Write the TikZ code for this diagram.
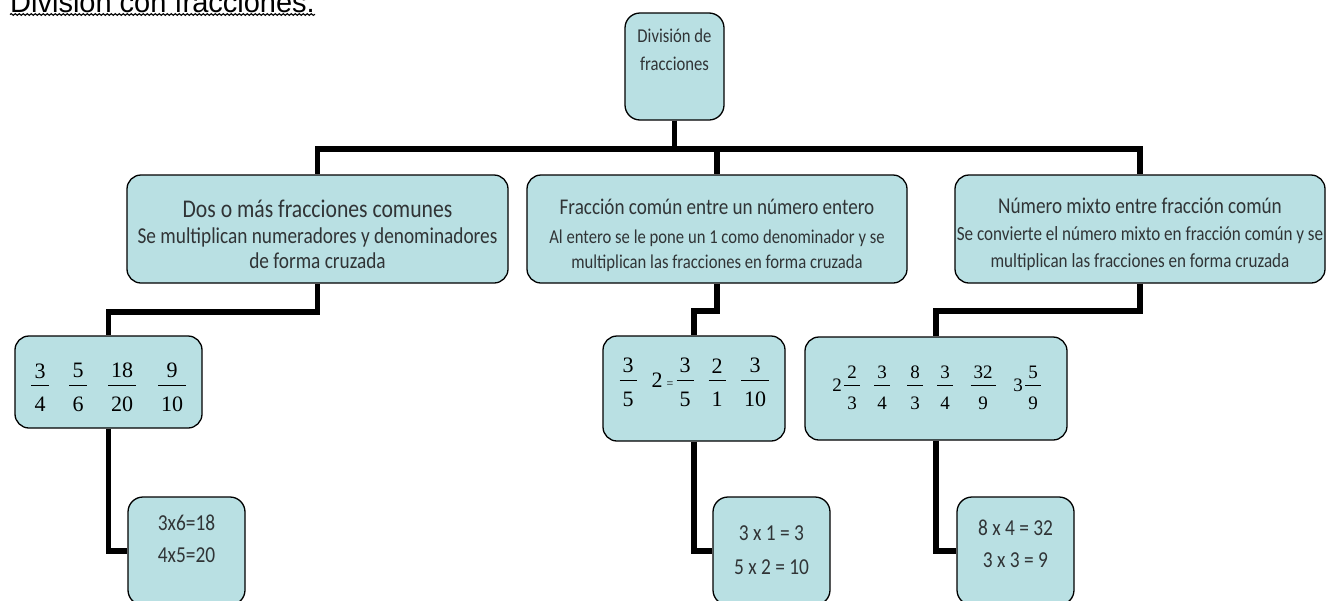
\documentclass[tikz,border=0pt]{standalone}
\usepackage{fontspec}
\setmainfont[FakeStretch=0.85]{Carlito}
\newfontfamily\serif{Liberation Serif}
\newfontfamily\arialf{Liberation Sans}
\usetikzlibrary{calc,decorations.pathmorphing}
\definecolor{boxfill}{RGB}{185,224,227}
\definecolor{txt}{RGB}{48,52,54}
\newcommand\fsz[1]{\fontsize{#1}{#1}\selectfont}
\newcommand\fr[2]{$\vcenter{\halign{\hfil\kern3pt##\kern3pt\hfil\cr #1\cr\noalign{\kern7pt\hrule height .9pt\kern10.5pt}#2\cr}}$}
\newcommand\pos[2]{\rlap{\hskip#1pt\makebox[0pt]{#2}}}
\newcommand\ctr[1]{\rule[\dimexpr -40pt + #1pt\relax]{0pt}{80pt}}
\tikzset{
  bx/.style={draw=black, line width=1.3pt, fill=boxfill, rounded corners=14pt, inner sep=0pt, text=txt},
  conn/.style={line width=5.8pt, black, line join=miter},
}
\begin{document}
\begin{tikzpicture}[x=1pt,y=-1pt]
\useasboundingbox (0,0) rectangle (1329,600);
% title
\node[anchor=base west, font=\arialf\fsz{29}, inner sep=0pt] (title) at (10,12) {División con fracciones.};
\draw[line width=1.1pt, decorate, decoration={snake, amplitude=0.9pt, segment length=4pt}]
  ($(title.base west)+(0,2.5)$) -- ($(title.base east)+(0,2.5)$);
% root
\node[bx, rounded corners=15pt] (root) at (674.5,66.5)
  {\parbox[c][107pt][t]{99pt}{\centering\fontsize{19.6}{28}\selectfont\rule{0pt}{29.5pt}División de\\fracciones}};
% level 2
\node[bx] (b1) at (317.5,229)
  {\parbox[c][108pt][t]{381pt}{\centering\fontsize{22.7}{25.5}\selectfont\rule{0pt}{42pt}{\fsz{25.5}Dos o más fracciones comunes}\\[0.5pt]Se multiplican numeradores y denominadores\\de forma cruzada}};
\node[bx] (b2) at (717,229)
  {\parbox[c][108pt][t]{380pt}{\centering\fontsize{19.6}{25}\selectfont\rule{0pt}{39pt}{\fsz{22.5}Fracción común entre un número entero}\\[4pt]Al entero se le pone un 1 como denominador y se\\multiplican las fracciones en forma cruzada}};
\node[bx] (b3) at (1140,229)
  {\parbox[c][108pt][t]{370pt}{\centering\fontsize{20.1}{27}\selectfont\rule{0pt}{38pt}{\fsz{22.6}Número mixto entre fracción común}\\[0.5pt]Se convierte el número mixto en fracción común y se\\multiplican las fracciones en forma cruzada}};
% level 3
\node[bx, minimum width=187pt, minimum height=92pt] (c1) at (108.5,382)
  {\serif\fsz{22}\color{black}\hbox to 187pt{\ctr{10.5}\pos{25}{\fr{3}{4}}\pos{63}{\fr{5}{6}}\pos{107}{\fr{18}{20}}\pos{157}{\fr{9}{10}}\hss}};
\node[bx, minimum width=182pt, minimum height=105pt] (c2) at (694,388.5)
  {\serif\fsz{22}\color{black}\hbox to 182pt{\ctr{-1}\pos{25}{\fr{3}{5}}\pos{54}{2}\pos{67}{\fsz{12}=}\pos{82}{\fr{3}{5}}\pos{114}{\fr{2}{1}}\pos{152}{\fr{3}{10}}\hss}};
\node[bx, minimum width=262pt, minimum height=103pt] (c3) at (936,388.5)
  {\serif\fsz{19}\color{black}\hbox to 262pt{\ctr{3.3}\pos{32}{2}\pos{47}{\fr{2}{3}}\pos{77}{\fr{3}{4}}\pos{110}{\fr{8}{3}}\pos{140}{\fr{3}{4}}\pos{178}{\fr{32}{9}}\pos{213}{3}\pos{228}{\fr{5}{9}}\hss}};
% level 4
\node[bx, rounded corners=15pt] (d1) at (186.5,551)
  {\parbox[c][108pt][t]{117pt}{\centering\fontsize{22.8}{32}\selectfont\rule{0pt}{33pt}3x6=18\\4x5=20}};
\node[bx, rounded corners=15pt] (d2) at (771.5,551)
  {\parbox[c][108pt][t]{117pt}{\centering\fontsize{22.8}{34}\selectfont\rule{0pt}{43pt}3 x 1 = 3\\5 x 2 = 10}};
\node[bx, rounded corners=15pt] (d3) at (1015.5,551)
  {\parbox[c][108pt][t]{117pt}{\centering\fontsize{22.8}{32}\selectfont\rule{0pt}{38pt}8 x 4 = 32\\3 x 3 = 9}};
% connectors
\draw[conn] (root.south) -- ++(0,28) -| (b1.north);
\draw[conn] (root.south) -- ++(0,28) -| (b2.north);
\draw[conn] (root.south) -- ++(0,28) -| (b3.north);
\draw[conn] (b1.south) -- ++(0,28) -| (c1.north);
\draw[conn] (b2.south) -- ++(0,27) -| (c2.north);
\draw[conn] (b3.south) -- ++(0,27) -| (c3.north);
\draw[conn] (c1.south) |- (d1.west);
\draw[conn] (c2.south) |- (d2.west);
\draw[conn] (c3.south) |- (d3.west);
\end{tikzpicture}
\end{document}
